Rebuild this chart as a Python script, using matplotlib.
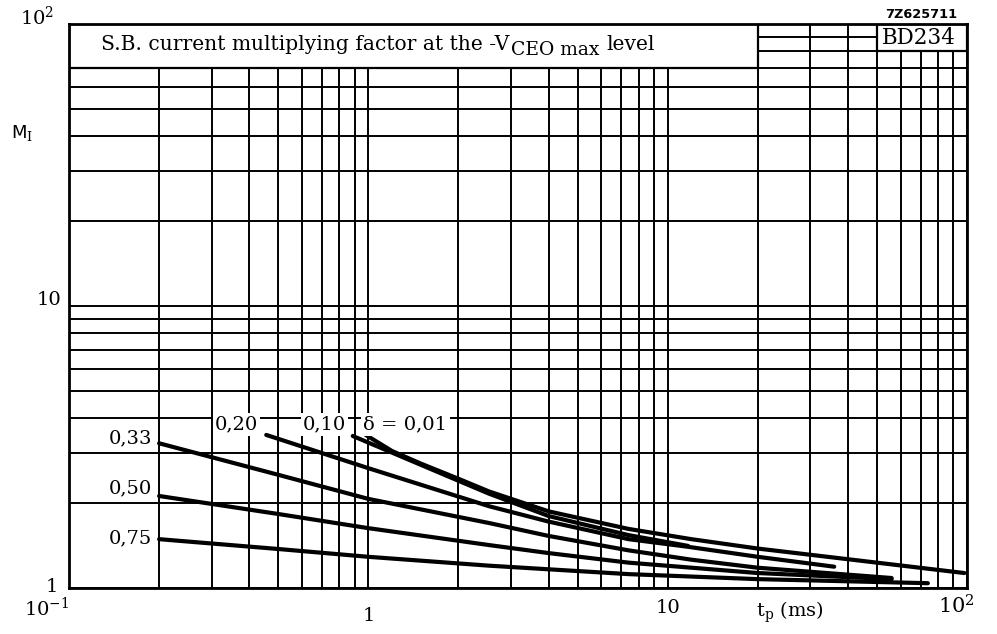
import matplotlib
matplotlib.use('Agg')
import matplotlib.pyplot as plt
from matplotlib.ticker import LogLocator, NullFormatter
from matplotlib.patches import Rectangle
import numpy as np

plt.rcParams['font.family'] = ['DejaVu Serif']
plt.rcParams['mathtext.fontset'] = 'dejavuserif'

# ---- data (t_p in ms, M_I) ----
delta_labels = ['δ = 0,01', '0,10', '0,20', '0,33', '0,50', '0,75']

t_001 = [0.98, 1.2, 1.5, 2.0, 2.53, 4.0, 7.4, 12.0, 20.0, 50.0, 98.0]
m_001 = [3.49, 3.06, 2.76, 2.44, 2.20, 1.87, 1.62, 1.49, 1.38, 1.23, 1.13]

t_010 = [0.887, 1.2, 2.0, 2.53, 4.0, 7.4, 11.7]
m_010 = [3.46, 3.02, 2.40, 2.16, 1.80, 1.54, 1.41]

t_020 = [0.456, 1.0, 2.53, 4.0, 7.4, 11.7, 20.0, 36.0]
m_020 = [3.49, 2.66, 1.95, 1.72, 1.49, 1.40, 1.29, 1.19]

t_033 = [0.2, 0.5, 1.0, 2.53, 4.0, 7.4, 12.0, 20.0, 56.0]
m_033 = [3.26, 2.52, 2.07, 1.70, 1.53, 1.36, 1.26, 1.18, 1.085]

t_050 = [0.2, 0.5, 1.0, 2.53, 4.0, 7.4, 20.0, 56.0]
m_050 = [2.12, 1.83, 1.63, 1.42, 1.33, 1.23, 1.13, 1.075]

t_075 = [0.2, 0.5, 1.0, 2.53, 4.0, 7.4, 20.0, 74.0]
m_075 = [1.49, 1.375, 1.29, 1.20, 1.165, 1.12, 1.075, 1.04]

xtick_vals = [0.1, 1, 10, 100]
xtick_labels = ['$10^{-1}$', '1', '10', '$10^{2}$']
ytick_vals = [1, 10, 100]
ytick_labels = ['1', '10', '$10^{2}$']

title_main = 'S.B. current multiplying factor at the -V'
title_sub = 'CEO max'
title_end = 'level'
type_text = 'BD234'
drawing_no = '7Z625711'

# ---- figure ----
W, H = 997, 634
fig = plt.figure(figsize=(W / 100, H / 100), dpi=100)
ax = fig.add_axes([69 / W, 46 / H, 898 / W, 564 / H])
ax.set_xscale('log')
ax.set_yscale('log')
ax.set_xlim(0.1, 100)
ax.set_ylim(1, 100)

for axis in (ax.xaxis, ax.yaxis):
    axis.set_major_locator(LogLocator(base=10, numticks=10))
    axis.set_minor_locator(LogLocator(base=10, subs=np.arange(2, 10), numticks=100))
    axis.set_minor_formatter(NullFormatter())
ax.grid(which='both', color='black', lw=1.4, zorder=1)
ax.tick_params(which='both', length=0, labelbottom=False, labelleft=False)
for s in ax.spines.values():
    s.set_linewidth(2.0)
    s.set_zorder(5)

# title boxes (cover the grid)
ax.add_patch(Rectangle((0.1, 70), 20 - 0.1, 100 - 70, facecolor='white',
                       edgecolor='black', lw=1.6, zorder=3))
t1 = ax.text(0.128, 78.5, title_main, fontsize=14.6, ha='left', va='bottom', zorder=4)
t2 = ax.annotate(title_sub, xy=(1, 0), xycoords=t1, xytext=(1, -3.5),
                 textcoords='offset points', fontsize=13.5, ha='left', va='bottom', zorder=4)
t3 = ax.annotate(title_end, xy=(1, 0), xycoords=t2, xytext=(5, 3.5),
                 textcoords='offset points', fontsize=14.6, ha='left', va='bottom', zorder=4)
ax.add_patch(Rectangle((50, 80), 100 - 50, 100 - 80, facecolor='white',
                       edgecolor='black', lw=1.6, zorder=3))
ax.text(69, 89.5, type_text, fontsize=15.5, ha='center', va='center', zorder=4)
ax.text(0.989, 1.006, drawing_no, transform=ax.transAxes, fontsize=9.3,
        family='DejaVu Sans', weight='bold', ha='right', va='bottom')

# curves
series = [(t_001, m_001), (t_010, m_010), (t_020, m_020),
          (t_033, m_033), (t_050, m_050), (t_075, m_075)]
for t, m in series:
    ax.plot(t, m, color='black', lw=3.0, solid_capstyle='round',
            solid_joinstyle='round', zorder=4)

# curve labels
bb = dict(facecolor='white', edgecolor='none', pad=1.5)
fs = 14
ax.text(0.19, 3.40, delta_labels[3], fontsize=fs, ha='right', va='center', bbox=bb, zorder=4)
ax.text(0.19, 2.26, delta_labels[4], fontsize=fs, ha='right', va='center', bbox=bb, zorder=4)
ax.text(0.19, 1.50, delta_labels[5], fontsize=fs, ha='right', va='center', bbox=bb, zorder=4)
ax.text(0.363, 3.80, delta_labels[2], fontsize=fs, ha='center', va='center', bbox=bb, zorder=4)
ax.text(0.713, 3.80, delta_labels[1], fontsize=fs, ha='center', va='center', bbox=bb, zorder=4)
ax.text(1.33, 3.80, delta_labels[0], fontsize=fs, ha='center', va='center', bbox=bb, zorder=4)

# tick labels
xt = ax.get_xaxis_transform()
ax.text(xtick_vals[0], -0.035, xtick_labels[0], transform=xt, fontsize=fs, ha='right', va='center')
ax.text(xtick_vals[1], -0.049, xtick_labels[1], transform=xt, fontsize=fs, ha='center', va='center')
ax.text(xtick_vals[2], -0.036, xtick_labels[2], transform=xt, fontsize=fs, ha='center', va='center')
ax.text(80, -0.032, xtick_labels[3], transform=xt, fontsize=15, ha='left', va='center')
ax.text(19.7, -0.044, r'$\mathrm{t_p}$ (ms)', transform=xt, fontsize=fs, ha='left', va='center')

yt = ax.get_yaxis_transform()
ax.text(-0.012, ytick_vals[0] * 1.01, ytick_labels[0], transform=yt, fontsize=fs, ha='right', va='center')
ax.text(-0.009, ytick_vals[1] * 1.05, ytick_labels[1], transform=yt, fontsize=fs, ha='right', va='center')
ax.text(-0.016, ytick_vals[2] * 1.06, ytick_labels[2], transform=yt, fontsize=fs, ha='right', va='center')
ax.text(-0.052, 41, r'M$_{\mathrm{I}}$', transform=yt, fontsize=13, family='DejaVu Sans',
        ha='center', va='center')

fig.savefig('out.png', dpi=100)
